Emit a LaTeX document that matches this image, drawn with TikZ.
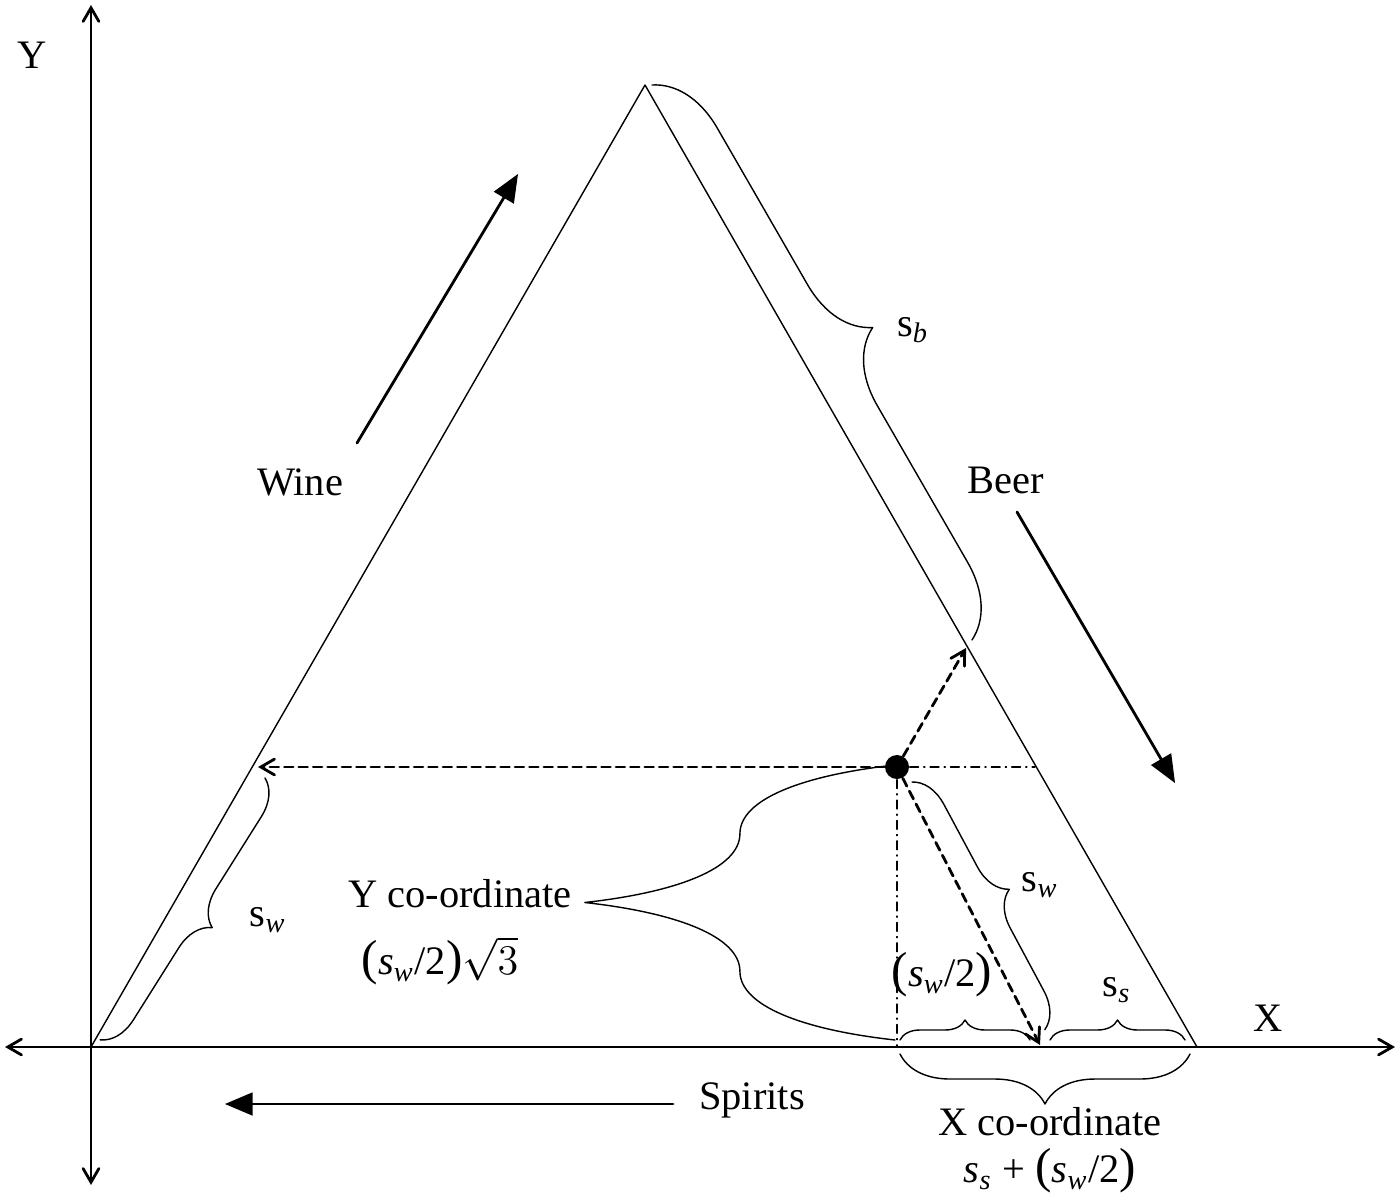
\documentclass[tikz,border=0pt]{standalone}
\usepackage{fontspec}
\setmainfont{Liberation Serif}
\usetikzlibrary{arrows}
\usetikzlibrary{decorations.pathreplacing}
\tikzset{
  brc/.style={decorate,decoration={brace,amplitude=#1}},
  lbl/.style={font=\fontsize{11.5}{13}\selectfont,inner sep=1pt},
  dot/.style={circle,fill,inner sep=0pt,minimum size=0.24cm},
  dasharr/.style={thick,dash pattern=on 2.5pt off 1.6pt,-angle 60},
  dashdot/.style={thin,dash pattern=on 2.5pt off 1.5pt on 0.3pt off 1.5pt},
  dirarr/.style={thick,-triangle 45},
}
\newcommand{\sub}[2]{#1\textsubscript{\textit{#2}}}
\newcommand{\bigpar}[1]{{\fontsize{14}{14}\selectfont(}#1{\fontsize{14}{14}\selectfont)}}

\begin{document}
\begin{tikzpicture}[line cap=round,line join=round,x=0.01cm,y=0.01cm]
\useasboundingbox (0,0) rectangle (1400,1202);
% axes
\coordinate (xl) at (5,155);
\coordinate (xr) at (1395,155);
\coordinate (yb) at (91,17);
\coordinate (yt) at (91,1197);
\draw [thick,angle 60-angle 60] (xl)--(xr);
\draw [thick,angle 60-angle 60] (yb)--(yt);
\node[lbl] (ylab) at (32,1147) {Y};
\node[lbl] (xlab) at (1268,184) {X};
% triangle
\coordinate (O) at (91,155);
\coordinate (T) at (645,1117);
\coordinate (R) at (1197,155);
\draw (O)--(T)--(R)--cycle;
% direction arrows
\coordinate (w1) at (357,759);
\coordinate (w2) at (518,1028);
\coordinate (b1) at (1017,690);
\coordinate (b2) at (1175,419);
\coordinate (s1) at (673,98);
\coordinate (s2) at (225,98);
\draw [dirarr] (w1)--(w2);
\draw [dirarr] (b1)--(b2);
\draw [dirarr] (s1)--(s2);
\node[lbl] (wine) at (300,720) {Wine};
\node[lbl] (beer) at (1006,722) {Beer};
\node[lbl] (spirits) at (752,102) {Spirits};
% the point and its projections
\node[dot] (P) at (897,435) {};
\coordinate (pw) at (258,435);
\coordinate (pb) at (966,554);
\coordinate (ps) at (1040,157);
\coordinate (ph) at (1035,435);
\coordinate (pv) at (897,155);
\draw [dasharr] (P)--(pw);
\draw [dasharr] (P)--(pb);
\draw [dasharr] (P)--(ps);
\draw [dashdot] (P)--(ph);
\draw [dashdot] (P)--(pv);
% braces
\draw [brc=0.35cm] (265,424)--(100,162);
\node[lbl] (swl) at (268,282) {\sub{s}{w}};
\draw [brc=0.7cm] (652,1117)--(972,562);
\node[lbl] (sb) at (913,872) {\sub{s}{b}};
\draw [brc=0.35cm] (912,420)--(1045,172);
\node[lbl] (swr) at (1040,317) {\sub{s}{w}};
\draw [brc=3.1cm] (895,162)--(895,437);
\node[lbl] (ycoord) at (460,308) {Y co-ordinate};
\node[lbl] (yform) at (440,241) {\bigpar{\sub{\textit{s}}{w}/2}$\sqrt{3}$};
\draw [brc=0.2cm] (900,162)--(1030,162);
\node[lbl] (half) at (942,227) {\bigpar{\sub{\textit{s}}{w}/2}};
\draw [brc=0.2cm] (1050,162)--(1185,162);
\node[lbl] (ss) at (1117,212) {\sub{s}{s}};
\draw [brc=0.5cm] (1190,148)--(900,148);
\node[lbl] (xcoord) at (1050,80) {X co-ordinate};
\node[lbl] (xform) at (1050,31) {\sub{\textit{s}}{s} + \bigpar{\sub{\textit{s}}{w}/2}};
\end{tikzpicture}
\end{document}
